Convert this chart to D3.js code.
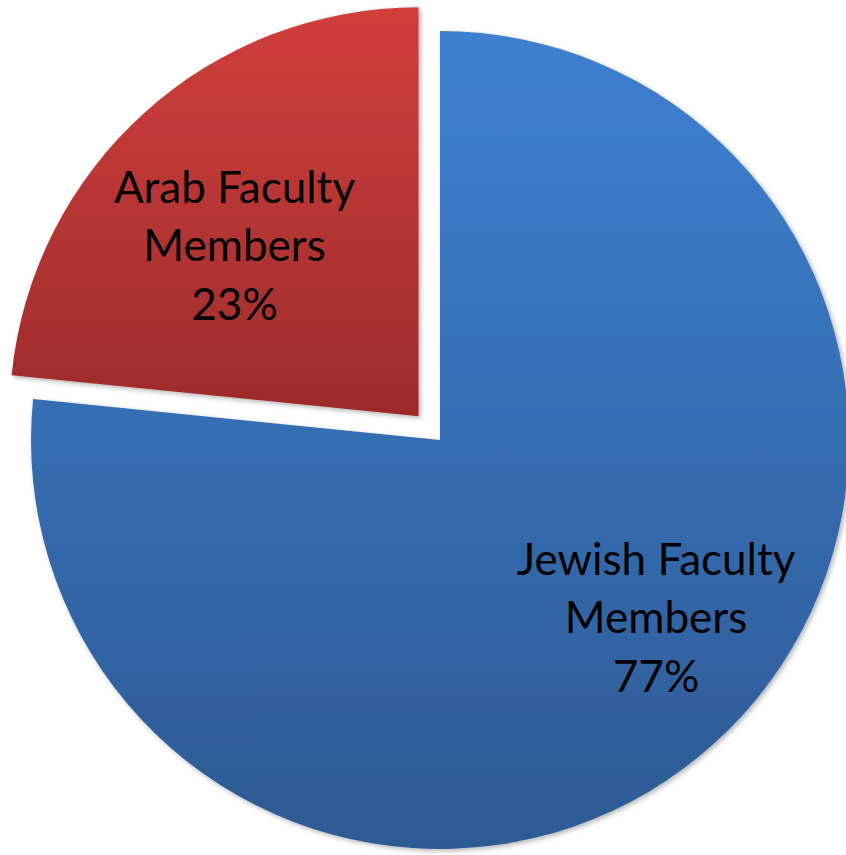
<!DOCTYPE html>
<html>
<head>
<meta charset="utf-8">
<script src="https://cdn.jsdelivr.net/npm/d3@7"></script>
<style>
  html, body { margin: 0; padding: 0; background: #fff; }
  svg { display: block; }
</style>
</head>
<body>
<div class="pie-chart"></div>
<script>
// Data

const categories = ['Jewish Faculty Members', 'Arab Faculty Members']
const shares = [76.6, 23.4]
const labelLines = [['Jewish Faculty', 'Members'], ['Arab Faculty', 'Members']]

// Pie chart

const drawPieChart = () => {
  const width = 846
  const height = 855
  const cx = 440
  const cy = 440
  const radius = 409
  const explode = [0, 32]
  const labelRadius = 0.66 * radius
  const labelNudge = [[35, -22], [-3, 30]]
  const gradients = [
    ['#3e80d0', '#2d5a94'],
    ['#d03f3c', '#9c2b2b']
  ]

  const data = categories.map((name, i) => ({name, value: shares[i], i}))

  const svg = d3.select('.pie-chart')
    .append('svg')
      .attr('width', width)
      .attr('height', height)

  const defs = svg.append('defs')

  gradients.forEach((stops, i) => {
    const g = defs.append('linearGradient')
      .attr('id', `grad${i}`)
      .attr('x1', 0).attr('y1', 0)
      .attr('x2', 0).attr('y2', 1)
    g.append('stop').attr('offset', '0%').attr('stop-color', stops[0])
    g.append('stop').attr('offset', '100%').attr('stop-color', stops[1])
  })

  const shadow = defs.append('filter')
    .attr('id', 'shadow')
    .attr('x', '-10%').attr('y', '-10%')
    .attr('width', '120%').attr('height', '120%')
  shadow.append('feDropShadow')
    .attr('dx', 2).attr('dy', 2)
    .attr('stdDeviation', 2.5)
    .attr('flood-color', '#000')
    .attr('flood-opacity', 0.3)

  const pie = d3.pie()
    .sort(null)
    .value((d) => d.value)

  const arc = d3.arc()
    .innerRadius(0)
    .outerRadius(radius)

  const labelArc = d3.arc()
    .innerRadius(labelRadius)
    .outerRadius(labelRadius)

  const arcs = pie(data)

  const offset = (d) => {
    const mid = (d.startAngle + d.endAngle) / 2
    const e = explode[d.data.i]
    return [Math.sin(mid) * e, -Math.cos(mid) * e]
  }

  const root = svg.append('g')
    .attr('transform', `translate(${cx},${cy})`)

  const slices = root.selectAll('g.slice')
      .data(arcs)
    .enter().append('g')
      .attr('class', 'slice')
      .attr('transform', (d) => `translate(${offset(d)})`)

  slices.append('path')
      .attr('d', arc)
      .attr('fill', (d) => `url(#grad${d.data.i})`)
      .attr('filter', 'url(#shadow)')

  const lineHeight = 58.5

  slices.append('text')
      .attr('transform', (d) => {
        const [x, y] = labelArc.centroid(d)
        const n = labelNudge[d.data.i]
        return `translate(${x + n[0]},${y + n[1]})`
      })
      .attr('text-anchor', 'middle')
      .style('font-family', 'Lato, "Open Sans", sans-serif')
      .style('font-size', '44px')
      .style('fill', '#000')
    .selectAll('tspan')
      .data((d) => {
        const lines = labelLines[d.data.i].concat([`${Math.round(d.data.value)}%`])
        return lines.map((t, k) => ({t, k, n: lines.length}))
      })
    .enter().append('tspan')
      .attr('x', 0)
      .attr('y', (d) => (d.k - (d.n - 1) / 2) * lineHeight + 15)
      .text((d) => d.t)
}

drawPieChart()
</script>
</body>
</html>
